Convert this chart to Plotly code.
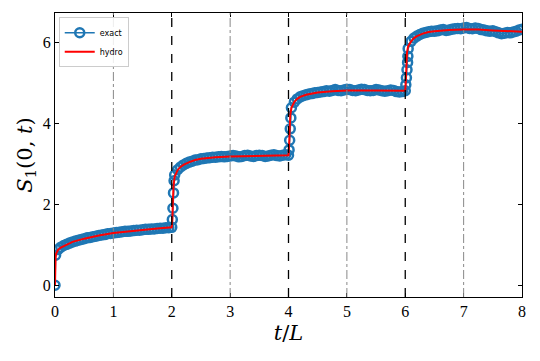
import plotly.graph_objects as go

# exact (circles) series
t_exact = [0.00, 0.01,
           0.05, 0.10, 0.15, 0.20, 0.25, 0.30, 0.35, 0.40, 0.45, 0.50, 0.55, 0.60, 0.65, 0.70, 0.75,
           0.80, 0.85, 0.90, 0.95, 1.00, 1.05, 1.10, 1.15, 1.20, 1.25, 1.30, 1.35, 1.40, 1.45, 1.50,
           1.55, 1.60, 1.65, 1.70, 1.75, 1.80, 1.85, 1.90, 1.95, 2.00,
           2.01, 2.02, 2.03, 2.04,
           2.05, 2.10, 2.15, 2.20, 2.25, 2.30, 2.35, 2.40, 2.45, 2.50, 2.55, 2.60, 2.65, 2.70, 2.75,
           2.80, 2.85, 2.90, 2.95, 3.00, 3.05, 3.10, 3.15, 3.20, 3.25, 3.30, 3.35, 3.40, 3.45, 3.50,
           3.55, 3.60, 3.65, 3.70, 3.75, 3.80, 3.85, 3.90, 3.95, 4.00,
           4.01, 4.02, 4.03, 4.04,
           4.05, 4.10, 4.15, 4.20, 4.25, 4.30, 4.35, 4.40, 4.45, 4.50, 4.55, 4.60, 4.65, 4.70, 4.75,
           4.80, 4.85, 4.90, 4.95, 5.00, 5.05, 5.10, 5.15, 5.20, 5.25, 5.30, 5.35, 5.40, 5.45, 5.50,
           5.55, 5.60, 5.65, 5.70, 5.75, 5.80, 5.85, 5.90, 5.95, 6.00,
           6.01, 6.02, 6.03, 6.04, 6.045,
           6.05, 6.10, 6.15, 6.20, 6.25, 6.30, 6.35, 6.40, 6.45, 6.50, 6.55, 6.60, 6.65, 6.70, 6.75,
           6.80, 6.85, 6.90, 6.95, 7.00, 7.05, 7.10, 7.15, 7.20, 7.25, 7.30, 7.35, 7.40, 7.45, 7.50,
           7.55, 7.60, 7.65, 7.70, 7.75, 7.80, 7.85, 7.90, 7.95, 8.00]
s_exact = [0.00, 0.74,
           0.88, 0.94, 0.98, 1.01, 1.04, 1.07, 1.09, 1.11, 1.13, 1.15, 1.17, 1.18, 1.20, 1.21, 1.23,
           1.24, 1.25, 1.27, 1.28, 1.29, 1.30, 1.31, 1.32, 1.33, 1.33, 1.34, 1.35, 1.36, 1.36, 1.37,
           1.38, 1.38, 1.39, 1.39, 1.40, 1.41, 1.41, 1.42, 1.42, 1.43,
           1.62, 1.90, 2.28, 2.58,
           2.72, 2.85, 2.92, 2.97, 3.01, 3.04, 3.06, 3.09, 3.10, 3.12, 3.13, 3.14, 3.15, 3.16, 3.16,
           3.17, 3.18, 3.17, 3.18, 3.19, 3.20, 3.19, 3.17, 3.18, 3.20, 3.21, 3.19, 3.18, 3.20, 3.21,
           3.20, 3.18, 3.19, 3.21, 3.22, 3.20, 3.19, 3.21, 3.22, 3.21,
           3.34, 3.58, 3.86, 4.13,
           4.38, 4.52, 4.60, 4.65, 4.68, 4.70, 4.72, 4.73, 4.75, 4.76, 4.77, 4.78, 4.80, 4.79, 4.81,
           4.83, 4.81, 4.80, 4.82, 4.84, 4.83, 4.81, 4.80, 4.82, 4.84, 4.83, 4.81, 4.80, 4.81, 4.83,
           4.82, 4.80, 4.79, 4.80, 4.82, 4.81, 4.78, 4.77, 4.78, 4.80,
           4.95, 5.12, 5.32, 5.50, 5.65,
           5.84, 6.02, 6.10, 6.15, 6.19, 6.22, 6.24, 6.26, 6.27, 6.27, 6.28, 6.30, 6.31, 6.29, 6.30,
           6.32, 6.33, 6.34, 6.33, 6.35, 6.36, 6.34, 6.33, 6.35, 6.34, 6.31, 6.30, 6.28, 6.27, 6.28,
           6.26, 6.23, 6.21, 6.22, 6.24, 6.23, 6.25, 6.27, 6.30, 6.32]

# hydro (red line) series
t_hydro = [0.0, 0.003, 0.01, 0.02, 0.05, 0.1, 0.2, 0.3, 0.5, 0.75, 1.0, 1.25, 1.5, 1.75, 2.0,
           2.01, 2.02, 2.03, 2.05, 2.1, 2.15, 2.2, 2.3, 2.4, 2.5, 2.75, 3.0, 3.5, 4.0,
           4.01, 4.02, 4.03, 4.05, 4.1, 4.15, 4.2, 4.3, 4.5, 4.75, 5.0, 5.5, 6.0,
           6.01, 6.02, 6.03, 6.05, 6.1, 6.15, 6.2, 6.3, 6.4, 6.5, 6.75, 7.0, 7.25, 7.5, 7.75, 8.0]
s_hydro = [0.0, 0.45, 0.68, 0.78, 0.87, 0.93, 1.01, 1.07, 1.15, 1.23, 1.29, 1.33, 1.37, 1.40, 1.43,
           1.60, 2.10, 2.45, 2.68, 2.84, 2.92, 2.97, 3.04, 3.09, 3.12, 3.16, 3.18, 3.20, 3.21,
           3.45, 3.90, 4.20, 4.38, 4.53, 4.60, 4.65, 4.70, 4.76, 4.79, 4.81, 4.81, 4.80,
           5.05, 5.50, 5.75, 5.90, 6.02, 6.10, 6.15, 6.21, 6.25, 6.27, 6.30, 6.31, 6.31, 6.29, 6.27, 6.26]

dashed_lines = [2, 4, 6]
dashdot_lines = [1, 3, 5, 7]
x_ticks = [0, 1, 2, 3, 4, 5, 6, 7, 8]
y_ticks = [0, 2, 4, 6]

fig = go.Figure()
fig.add_trace(go.Scatter(
    x=t_exact, y=s_exact, mode="lines+markers", name="exact",
    line=dict(color="#1f77b4", width=1.5),
    marker=dict(symbol="circle-open", size=9, color="#1f77b4", line=dict(width=2.5, color="#1f77b4")),
))
fig.add_trace(go.Scatter(
    x=t_hydro, y=s_hydro, mode="lines", name="hydro",
    line=dict(color="#ff0000", width=2),
))

shapes = []
for xv in dashed_lines:
    shapes.append(dict(type="line", xref="x", yref="paper", x0=xv, x1=xv, y0=0, y1=1,
                       line=dict(color="black", width=1.3, dash="dash")))
for xv in dashdot_lines:
    shapes.append(dict(type="line", xref="x", yref="paper", x0=xv, x1=xv, y0=0, y1=1,
                       line=dict(color="#888888", width=1, dash="dashdot")))

axis_common = dict(showgrid=False, zeroline=False, showline=True, linecolor="black", linewidth=1.2,
                   mirror="ticks", ticks="inside", ticklen=4, tickwidth=1, tickcolor="black",
                   automargin=False,
                   tickfont=dict(family="Liberation Serif", size=16, color="black"))

# the page body adds an 8px offset, so the figure is 8px smaller on each side
fig.update_layout(
    width=532, height=353,
    margin=dict(l=47, r=18, t=5, b=64),
    paper_bgcolor="white", plot_bgcolor="white",
    shapes=shapes,
    showlegend=True,
    legend=dict(x=0.008, y=0.985, xanchor="left", yanchor="top",
                bgcolor="rgba(255,255,255,0.85)", bordercolor="#cccccc", borderwidth=1,
                font=dict(family="DejaVu Sans", size=8, color="black"),
                itemwidth=30, tracegroupgap=0),
    xaxis=dict(range=[0, 8], tickvals=x_ticks,
               title=dict(text="<i>t</i>/<i>L</i>", font=dict(family="DejaVu Serif", size=21, color="black"), standoff=6),
               **axis_common),
    yaxis=dict(range=[-0.29, 6.72], tickvals=y_ticks,
               title=dict(text="<i>S</i><sub>1</sub>(0, <i>t</i>)", font=dict(family="DejaVu Serif", size=21, color="black"), standoff=4),
               **axis_common),
)

fig.write_html("out.html")
